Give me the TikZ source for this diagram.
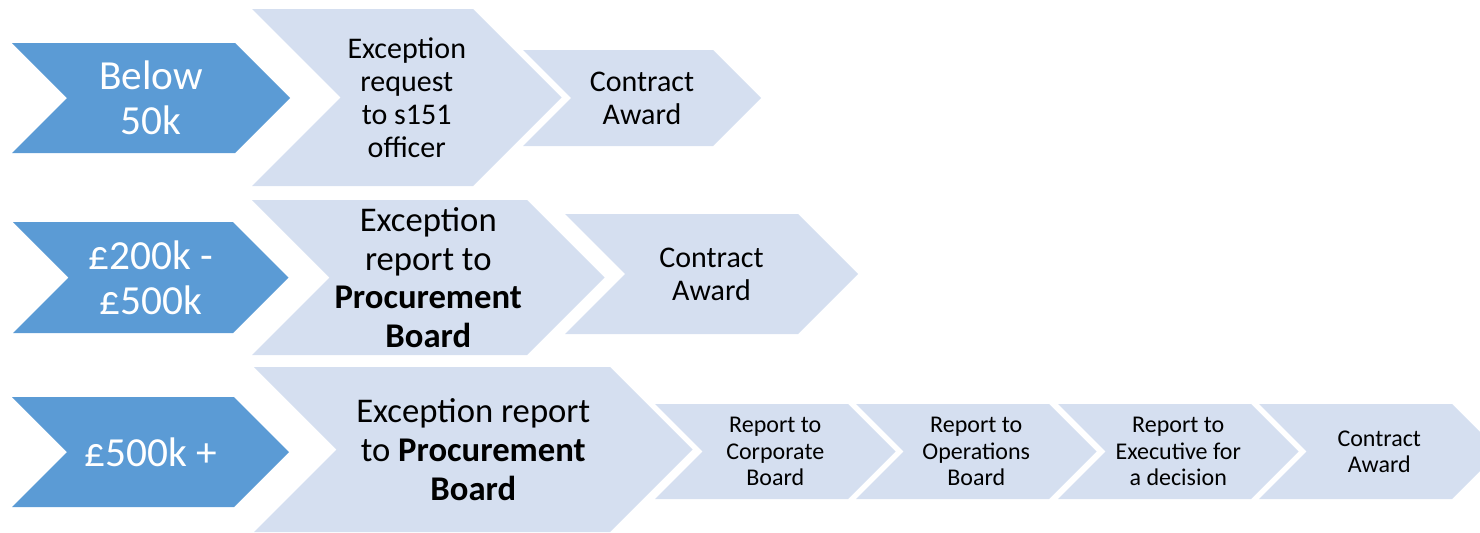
\documentclass[tikz,border=0pt]{standalone}
\usepackage{fontspec}
\setmainfont{Carlito}
\definecolor{darkchev}{HTML}{5B9BD5}
\definecolor{lightchev}{HTML}{D5DFF0}
\tikzset{
  darkfill/.style={fill=darkchev},
  lightfill/.style={fill=lightchev},
  darktext/.style={text=white,align=center,inner sep=0pt,font=\fontsize{31}{34}\selectfont},
  rowonetext/.style={text=black,align=center,inner sep=0pt,font=\fontsize{22.5}{24.8}\selectfont},
  bigtext/.style={text=black,align=center,inner sep=0pt,font=\fontsize{26}{29}\selectfont},
  smalltext/.style={text=black,align=center,inner sep=0pt,font=\fontsize{18}{19.6}\selectfont},
}
% #1 name, #2 left x, #3 top y, #4 right corner x, #5 bottom y, #6 style
\newcommand{\chevron}[6]{%
  \fill[#6] (#2,#3) -- (#4,#3) -- ({#4+(#5-#3)/2},{(#3+#5)/2}) -- (#4,#5) -- (#2,#5)
    -- ({#2+(#5-#3)/2},{(#3+#5)/2}) -- cycle;
  \coordinate (#1) at ({(#2+#4)/2+(#5-#3)/4},{(#3+#5)/2});
}
\begin{document}
\begin{tikzpicture}[x=0.75pt,y=-0.75pt]
\useasboundingbox (0,0) rectangle (1480,532);
\begin{scope}
\clip (0,0) rectangle (1480,532);
% Row 1
\chevron{d1}{12}{43}{235}{153}{darkfill}
\chevron{l1a}{252}{9}{473}{186}{lightfill}
\chevron{l1b}{523}{50}{713}{146}{lightfill}
% Row 2
\chevron{d2}{13}{222}{233}{333}{darkfill}
\chevron{l2a}{252}{200}{527}{355}{lightfill}
\chevron{l2b}{565}{214}{798}{334}{lightfill}
% Row 3
\chevron{d3}{12}{397}{234}{507}{darkfill}
\chevron{l3a}{254}{367}{610}{532}{lightfill}
\chevron{s1}{655}{404}{848}{499}{lightfill}
\chevron{s2}{856}{404}{1049}{499}{lightfill}
\chevron{s3}{1058}{404}{1251}{499}{lightfill}
\chevron{s4}{1259}{404}{1452}{499}{lightfill}
\end{scope}
% Texts
\node[darktext] (t-d1) at (d1) {Below\\50k};
\node[rowonetext] (t-l1a) at (l1a) {Exception\\request\\to s151\\officer};
\node[rowonetext] (t-l1b) at (l1b) {Contract\\Award};
\node[darktext] (t-d2) at (d2) {£200k -\\£500k};
\node[bigtext] (t-l2a) at (l2a) {Exception\\report to\\\textbf{Procurement}\\\textbf{Board}};
\node[rowonetext] (t-l2b) at (l2b) {Contract\\Award};
\node[darktext] (t-d3) at (d3) {£500k +};
\node[bigtext] (t-l3a) at (l3a) {Exception report\\to \textbf{Procurement}\\\textbf{Board}};
\node[smalltext] (t-s1) at (s1) {Report to\\Corporate\\Board};
\node[smalltext] (t-s2) at (s2) {Report to\\Operations\\Board};
\node[smalltext] (t-s3) at (s3) {Report to\\Executive for\\a decision};
\node[smalltext] (t-s4) at (s4) {Contract\\Award};
\end{tikzpicture}
\end{document}
